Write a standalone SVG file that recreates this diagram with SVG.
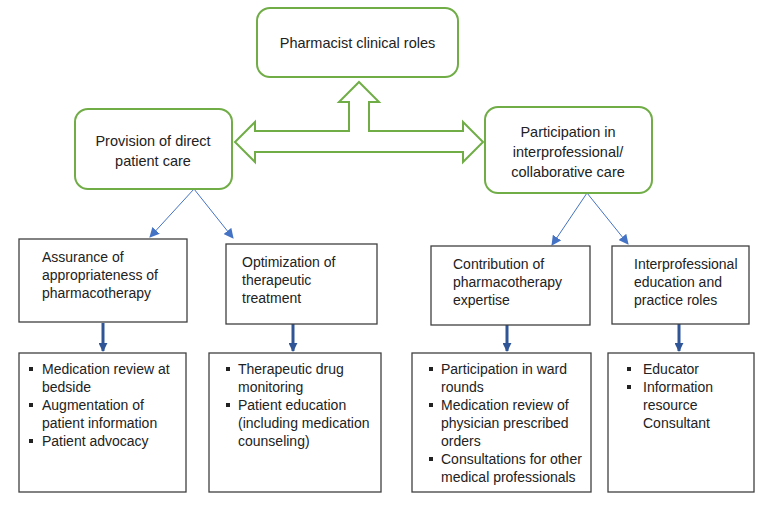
<svg xmlns="http://www.w3.org/2000/svg" width="770" height="507" viewBox="0 0 770 507">
<style>
.g{fill:#fff;stroke:#70AD47;stroke-width:2}
.b{fill:#fff;stroke:#404040;stroke-width:1.3}
text{font-family:"Liberation Sans",Arial,sans-serif;font-size:14px;fill:#222}
.c{text-anchor:middle;font-size:14.5px}
.thin{stroke:#4472C4;stroke-width:1;fill:none}
.thick{stroke:#2F5597;stroke-width:3;fill:none}
.bl{fill:#222}
</style>
<defs>
<marker id="ah" viewBox="0 0 10 10" refX="9" refY="5" markerWidth="10" markerHeight="10" markerUnits="userSpaceOnUse" orient="auto"><path d="M0,0 L10,5 L0,10 Z" fill="#4472C4"/></marker>
<marker id="ahk" viewBox="0 0 10 10" refX="9" refY="5" markerWidth="3" markerHeight="3" orient="auto"><path d="M0,0 L10,5 L0,10 Z" fill="#2F5597"/></marker>
</defs>
<g id="connectors">
<polygon class="g" points="359,82 379,102 369,102 369,131 463,131 463,122 483,142 463,162 463,152 255,152 255,162 235,142 255,122 255,131 349,131 349,102 339,102"/>
<line class="thin" x1="194" y1="189" x2="150" y2="237" marker-end="url(#ah)"/>
<line class="thin" x1="194" y1="189" x2="233" y2="238" marker-end="url(#ah)"/>
<line class="thin" x1="587" y1="193" x2="552" y2="245" marker-end="url(#ah)"/>
<line class="thin" x1="587" y1="193" x2="628" y2="244" marker-end="url(#ah)"/>
<line class="thick" x1="103" y1="323" x2="103" y2="351" marker-end="url(#ahk)"/>
<line class="thick" x1="293" y1="324" x2="293" y2="351" marker-end="url(#ahk)"/>
<line class="thick" x1="507" y1="325" x2="507" y2="351" marker-end="url(#ahk)"/>
<line class="thick" x1="679" y1="324" x2="679" y2="351" marker-end="url(#ahk)"/>
</g>
<g id="root">
<rect class="g" x="257" y="8" width="201" height="69" rx="13"/>
<text class="c" x="357.5" y="48">Pharmacist clinical roles</text>
</g>
<g id="direct">
<rect class="g" x="75" y="109" width="157" height="80" rx="13"/>
<text class="c" x="153" y="146">Provision of direct</text>
<text class="c" x="153" y="166">patient care</text>
</g>
<g id="collab">
<rect class="g" x="485" y="107" width="167" height="86" rx="13"/>
<text class="c" x="568" y="137">Participation in</text>
<text class="c" x="568" y="157">interprofessional/</text>
<text class="c" x="568" y="177">collaborative care</text>
</g>
<g id="assurance">
<rect class="b" x="19" y="239" width="168" height="83"/>
<text x="42" y="262">Assurance of</text>
<text x="42" y="280">appropriateness of</text>
<text x="42" y="298">pharmacotherapy</text>
</g>
<g id="optimization">
<rect class="b" x="226" y="244" width="151" height="80"/>
<text x="242" y="267">Optimization of</text>
<text x="242" y="285">therapeutic</text>
<text x="242" y="303">treatment</text>
</g>
<g id="contribution">
<rect class="b" x="431" y="246" width="159" height="79"/>
<text x="453" y="269">Contribution of</text>
<text x="453" y="287">pharmacotherapy</text>
<text x="453" y="305">expertise</text>
</g>
<g id="interprof">
<rect class="b" x="612" y="246" width="137" height="78"/>
<text x="634" y="269">Interprofessional</text>
<text x="634" y="287">education and</text>
<text x="634" y="305">practice roles</text>
</g>
<g id="list1">
<rect class="b" x="19" y="353" width="167" height="139"/>
<rect class="bl" x="29" y="367" width="4" height="4"/>
<text x="42" y="374">Medication review at</text>
<text x="42" y="392">bedside</text>
<rect class="bl" x="29" y="403" width="4" height="4"/>
<text x="42" y="410">Augmentation of</text>
<text x="42" y="428">patient information</text>
<rect class="bl" x="29" y="439" width="4" height="4"/>
<text x="42" y="446">Patient advocacy</text>
</g>
<g id="list2">
<rect class="b" x="209" y="353" width="172" height="139"/>
<rect class="bl" x="226" y="367" width="4" height="4"/>
<text x="238" y="374">Therapeutic drug</text>
<text x="238" y="392">monitoring</text>
<rect class="bl" x="226" y="403" width="4" height="4"/>
<text x="238" y="410">Patient education</text>
<text x="238" y="428">(including medication</text>
<text x="238" y="446">counseling)</text>
</g>
<g id="list3">
<rect class="b" x="412" y="353" width="179" height="139"/>
<rect class="bl" x="429" y="367" width="4" height="4"/>
<text x="441" y="374">Participation in ward</text>
<text x="441" y="392">rounds</text>
<rect class="bl" x="429" y="403" width="4" height="4"/>
<text x="441" y="410">Medication review of</text>
<text x="441" y="428">physician prescribed</text>
<text x="441" y="446">orders</text>
<rect class="bl" x="429" y="457" width="4" height="4"/>
<text x="441" y="464">Consultations for other</text>
<text x="441" y="482">medical professionals</text>
</g>
<g id="list4">
<rect class="b" x="608" y="353" width="146" height="139"/>
<rect class="bl" x="627" y="367" width="4" height="4"/>
<text x="643" y="374">Educator</text>
<rect class="bl" x="627" y="385" width="4" height="4"/>
<text x="643" y="392">Information</text>
<text x="643" y="410">resource</text>
<text x="643" y="428">Consultant</text>
</g>
</svg>
